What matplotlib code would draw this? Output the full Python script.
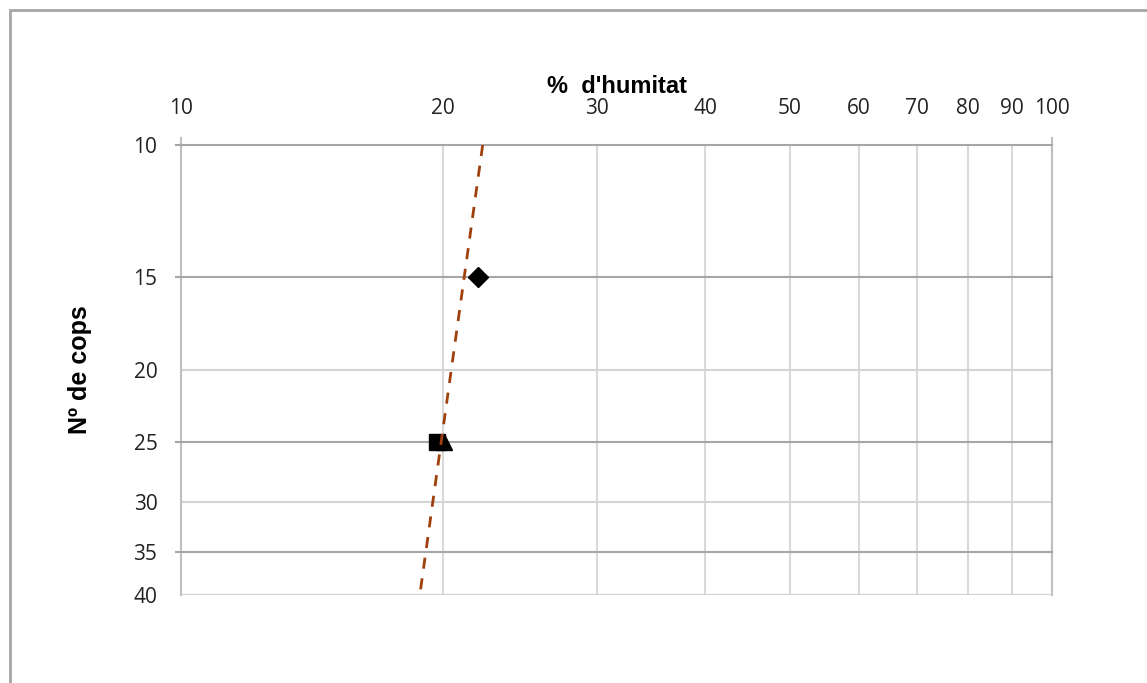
import numpy as np
import matplotlib.pyplot as plt
from matplotlib.patches import Rectangle

# Data
humitat_diamond = [21.9]
cops_diamond = [15]
humitat_square = [19.7]
cops_square = [25]
humitat_triangle = [20.05]
cops_triangle = [25]

# dashed trend line (ends)
trend_cops = [10, 40]
trend_humitat = [22.2, 18.8]

x_ticks = [10, 20, 30, 40, 50, 60, 70, 80, 90, 100]
y_ticks = [10, 15, 20, 25, 30, 35, 40]
y_dark = [10, 15, 25, 35]
y_light = [20, 30]

fig = plt.figure(figsize=(11.47, 6.83), dpi=100)
ax = fig.add_axes([0.1578, 0.1288, 0.7594, 0.6589])

ax.set_xscale('log')
ax.set_yscale('log')
ax.set_xlim(10, 100)
ax.set_ylim(40, 10)

# grid lines
for xv in x_ticks:
    ax.axvline(xv, color='#d9d9d9', lw=1.5, zorder=1)
for yv in y_light:
    ax.axhline(yv, color='#d4d4d4', lw=1.5, zorder=1)
for yv in y_dark:
    ax.axhline(yv, xmin=-0.006, xmax=1.0, color='#a6a6a6', lw=1.5, zorder=1.5, clip_on=False)
ax.axvline(100, ymin=0, ymax=1.015, color='#bfbfbf', lw=1.5, clip_on=False, zorder=1)
ax.axvline(10, ymin=0, ymax=1.015, color='#bfbfbf', lw=1.5, clip_on=False, zorder=1)

for s in ax.spines.values():
    s.set_visible(False)
ax.axhline(40, color='#d0d0d0', lw=1.5, zorder=1)

ax.plot(humitat_diamond, cops_diamond, 'D', color='black', ms=10, zorder=3, clip_on=False)
ax.plot(humitat_square, cops_square, 's', color='black', ms=11, zorder=3, clip_on=False)
ax.plot(humitat_triangle, cops_triangle, '^', color='black', ms=12, zorder=3, clip_on=False)
ax.plot(trend_humitat, trend_cops, '--', color='#a0410d', lw=2, dashes=(4, 3.5), zorder=4)

ax.xaxis.set_ticks_position('top')
ax.xaxis.set_label_position('top')
ax.set_xticks(x_ticks)
ax.set_xticklabels([str(v) for v in x_ticks])
ax.xaxis.set_minor_locator(plt.NullLocator())
ax.set_yticks(y_ticks)
ax.set_yticklabels([str(v) for v in y_ticks])
ax.yaxis.set_minor_locator(plt.NullLocator())
ax.tick_params(axis='both', length=0, labelsize=15, colors='#222222')
ax.tick_params(axis='x', pad=19)
ax.tick_params(axis='y', pad=17)
for lab in ax.get_xticklabels() + ax.get_yticklabels():
    lab.set_family('Open Sans')

ax.set_xlabel("%  d'humitat", fontsize=17, fontweight='bold', labelpad=3,
              family='Liberation Sans')
ax.set_ylabel("Nº de cops", fontsize=18, fontweight='bold', labelpad=30,
              family='Liberation Sans')

# chart area border (partially visible)
fig.add_artist(Rectangle((10 / 1147, -0.05), 1.2, 1 - 10 / 683 + 0.05,
                         transform=fig.transFigure, fill=False,
                         edgecolor='#a6a6a6', lw=2))

fig.savefig('out.png', dpi=100)
